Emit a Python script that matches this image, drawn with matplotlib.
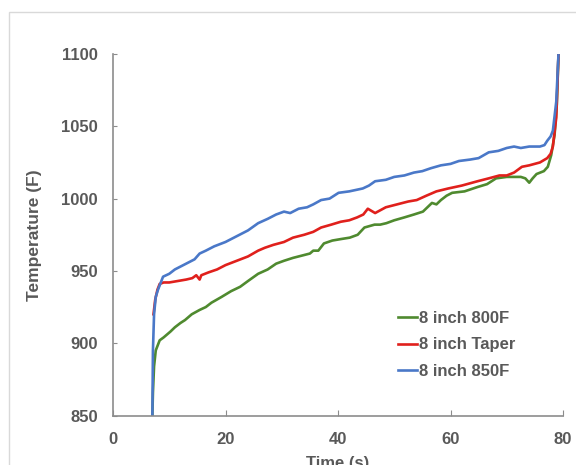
import matplotlib.pyplot as plt
from matplotlib.patches import Rectangle

# -- Data --
t_800 = [7.0, 7.1, 7.3, 7.6, 8.3, 9.0, 9.6, 10.2, 11.0, 12.0, 12.8, 14.0, 15.4, 16.5, 17.5,
         19.3, 21.0, 22.6, 24.0, 25.8, 27.5, 29.0, 30.4, 32.0, 34.0, 35.0, 35.6, 36.5, 37.5,
         39.0, 40.5, 42.1, 43.5, 44.7, 46.5, 47.5, 48.6, 50.0, 51.8, 53.5, 55.1, 55.9, 56.7,
         57.5, 58.3, 59.3, 60.3, 62.5, 64.8, 66.5, 68.1, 70.0, 71.3, 72.5, 73.3, 74.0, 74.6,
         75.3, 76.6, 77.3, 77.9, 78.5, 78.9, 79.2]
temp_800 = [850, 866, 884, 895, 902, 904, 906, 908, 911, 914, 916, 920, 923, 925, 928,
            932, 936, 939, 943, 948, 951, 955, 957, 959, 961, 962, 964, 964, 969,
            971, 972, 973, 975, 980, 982, 982, 983, 985, 987, 989, 991, 994, 997,
            996, 999, 1002, 1004, 1005, 1008, 1010, 1014, 1015, 1015, 1015, 1014, 1011, 1014,
            1017, 1019, 1022, 1030, 1044, 1065, 1100]

t_taper = [7.2, 7.5, 7.9, 8.3, 9.0, 10.0, 11.5, 13.0, 14.1, 14.8, 15.4, 15.7, 17.0, 18.5,
           20.0, 22.0, 24.0, 25.8, 27.0, 28.5, 30.4, 32.0, 34.0, 35.6, 37.0, 38.8, 40.5,
           42.0, 43.4, 44.5, 45.3, 46.6, 48.5, 50.5, 52.5, 54.0, 55.7, 57.5, 59.6, 62.0,
           64.8, 66.8, 68.7, 70.0, 71.3, 72.7, 74.0, 75.9, 77.2, 77.8, 78.2, 78.8, 79.2]
temp_taper = [920, 930, 937, 941, 942, 942, 943, 944, 945, 947, 944, 947, 949, 951,
              954, 957, 960, 964, 966, 968, 970, 973, 975, 977, 980, 982, 984,
              985, 987, 989, 993, 990, 994, 996, 998, 999, 1002, 1005, 1007, 1009,
              1012, 1014, 1016, 1016, 1018, 1022, 1023, 1025, 1028, 1031, 1036, 1056, 1100]

t_850 = [7.0, 7.1, 7.3, 7.6, 8.0, 8.3, 8.9, 10.0, 11.0, 12.0, 13.5, 14.5, 15.4, 16.5, 18.0,
         20.0, 22.0, 24.0, 25.8, 27.5, 29.0, 30.4, 31.5, 33.0, 34.5, 35.6, 37.0, 38.5,
         40.1, 42.0, 44.4, 45.5, 46.6, 48.5, 50.0, 51.8, 53.5, 55.0, 56.5, 58.3, 60.0,
         61.5, 63.5, 65.0, 66.8, 68.5, 70.0, 71.3, 72.5, 74.0, 75.9, 76.7, 77.2, 77.8,
         78.2, 78.8, 79.2]
temp_850 = [850, 895, 920, 932, 937, 940, 946, 948, 951, 953, 956, 958, 962, 964, 967,
            970, 974, 978, 983, 986, 989, 991, 990, 993, 994, 996, 999, 1000,
            1004, 1005, 1007, 1009, 1012, 1013, 1015, 1016, 1018, 1019, 1021, 1023, 1024,
            1026, 1027, 1028, 1032, 1033, 1035, 1036, 1035, 1036, 1036, 1037, 1040, 1043,
            1047, 1067, 1100]

# -- Plot --
plt.rcParams['font.family'] = ['Liberation Sans', 'DejaVu Sans']
grey = '#595959'
fig = plt.figure(figsize=(5.76, 4.65), dpi=100)
fig.patches.append(Rectangle((9 / 576, -0.1), 1.2, 1 - 12 / 465 + 0.1, transform=fig.transFigure,
                             fill=False, edgecolor='#d9d9d9', linewidth=1))
ax = fig.add_axes([113 / 576, 49.5 / 465, 450 / 576, 361.5 / 465])

ax.plot(t_800, temp_800, color='#4f8a2f', lw=1.9, label='8 inch 800F')
ax.plot(t_taper, temp_taper, color='#e0201c', lw=1.9, label='8 inch Taper')
ax.plot(t_850, temp_850, color='#4a78c8', lw=1.9, label='8 inch 850F')

# -- Cosmetics --
ax.set_xlim(0, 80)
ax.set_ylim(850, 1100)
ax.set_xticks([0, 20, 40, 60, 80])
ax.set_yticks([850, 900, 950, 1000, 1050, 1100])
for side in ['top', 'right']:
    ax.spines[side].set_visible(False)
for side in ['left', 'bottom']:
    ax.spines[side].set_color('#8c8c8c')
    ax.spines[side].set_linewidth(1.2)
ax.tick_params(axis='x', direction='in', length=4, color='#8c8c8c', pad=12)
ax.tick_params(axis='y', direction='in', length=3, color='#8c8c8c', pad=11)
for lab in ax.get_xticklabels() + ax.get_yticklabels():
    lab.set_fontsize(12)
    lab.set_fontweight('bold')
    lab.set_color(grey)
ax.set_xlabel('Time (s)', fontsize=12, fontweight='bold', color=grey, labelpad=6)
ax.set_ylabel('Temperature (F)', fontsize=12.5, fontweight='bold', color=grey, labelpad=14)

ax.legend(loc='upper left', bbox_to_anchor=(398 / 576, 1 - 311 / 465),
          bbox_transform=fig.transFigure, frameon=False, borderpad=0, borderaxespad=0,
          handlelength=1.15, handletextpad=0.1, labelspacing=0.68,
          prop={'size': 12, 'weight': 'bold'}, labelcolor=grey)

fig.savefig('out.png', dpi=100)
